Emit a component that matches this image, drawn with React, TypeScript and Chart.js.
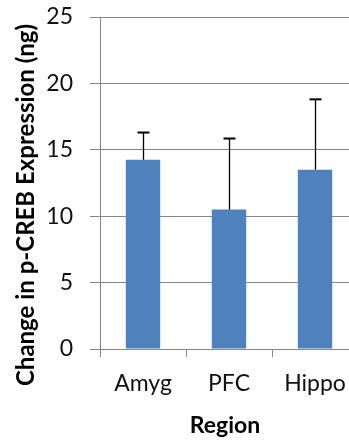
import React, { useEffect, useRef } from "react";
import { Chart, registerables } from "chart.js";

Chart.register(...registerables);

const categories = ["Amyg", "PFC", "Hippo"];
const values = [14.25, 10.5, 13.5];
const errors = [2.05, 5.35, 5.3];
const yMin = 0;
const yMax = 25;
const yStep = 5;
const yTitle = "Change in p-CREB Expression (ng)";
const xTitle = "Region";

const FONT = "Lato";

const errorBarPlugin = {
  id: "errorBars",
  afterDatasetsDraw(chart: any) {
    const ctx = chart.ctx;
    const meta = chart.getDatasetMeta(0);
    const yScale = chart.scales.y;
    ctx.save();
    ctx.strokeStyle = "#000000";
    meta.data.forEach((el: any, i: number) => {
      const top = yScale.getPixelForValue(values[i] + errors[i]);
      const x = Math.round(el.x) + 0.5;
      ctx.lineWidth = 1.3;
      ctx.beginPath();
      ctx.moveTo(x, el.y);
      ctx.lineTo(x, top);
      ctx.stroke();
      ctx.lineWidth = 2;
      ctx.beginPath();
      ctx.moveTo(x - 6, top);
      ctx.lineTo(x + 6, top);
      ctx.stroke();
    });
    ctx.restore();
  },
};

const titlesPlugin = {
  id: "axisTitles",
  afterDraw(chart: any) {
    const ctx = chart.ctx;
    ctx.save();
    ctx.fillStyle = "#000000";
    ctx.textAlign = "center";
    ctx.textBaseline = "middle";
    ctx.font = `bold 23px ${FONT}`;
    ctx.fillText(xTitle, 225, 426);
    ctx.font = `bold 24px ${FONT}`;
    ctx.translate(26, 205);
    ctx.rotate(-Math.PI / 2);
    ctx.fillText(yTitle, 0, 0);
    ctx.restore();
  },
};

export default function App() {
  const ref = useRef<HTMLCanvasElement | null>(null);

  useEffect(() => {
    if (!ref.current) return;
    const chart = new Chart(ref.current, {
      type: "bar",
      data: {
        labels: categories,
        datasets: [
          {
            data: values,
            backgroundColor: "#4F81BD",
            borderWidth: 0,
            categoryPercentage: 1,
            barPercentage: 0.4,
          },
        ],
      },
      options: {
        animation: false,
        responsive: true,
        maintainAspectRatio: false,
        layout: { padding: { top: 17, left: 0, right: 0, bottom: 0 } },
        plugins: {
          legend: { display: false },
          tooltip: { enabled: false },
        },
        scales: {
          x: {
            grid: {
              display: true,
              drawOnChartArea: false,
              drawTicks: true,
              tickLength: 8,
              color: "#868686",
              offset: true,
            },
            border: { display: true, color: "#868686", width: 1 },
            ticks: {
              color: "#111111",
              font: { family: FONT, size: 23 },
              padding: 13,
              maxRotation: 0,
            },
            afterFit: (scale: any) => {
              scale.height = 92;
              scale.paddingLeft = 0;
              scale.paddingRight = 0;
            },
          },
          y: {
            min: yMin,
            max: yMax,
            grid: {
              color: "#868686",
              lineWidth: 1,
              drawTicks: true,
              tickLength: 10,
            },
            border: { display: true, color: "#868686", width: 1 },
            ticks: {
              stepSize: yStep,
              color: "#111111",
              font: { family: FONT, size: 23 },
              padding: 17,
            },
            afterFit: (scale: any) => {
              scale.width = 100;
              scale.paddingTop = 0;
              scale.paddingBottom = 0;
            },
          },
        },
      },
      plugins: [errorBarPlugin, titlesPlugin],
    });
    return () => chart.destroy();
  }, []);

  return (
    <div
      style={{
        position: "absolute",
        left: 0,
        top: 0,
        width: 349,
        height: 441,
        overflow: "hidden",
        background: "#ffffff",
      }}
    >
      <div style={{ position: "relative", width: 358, height: 441 }}>
        <canvas ref={ref} />
      </div>
    </div>
  );
}
